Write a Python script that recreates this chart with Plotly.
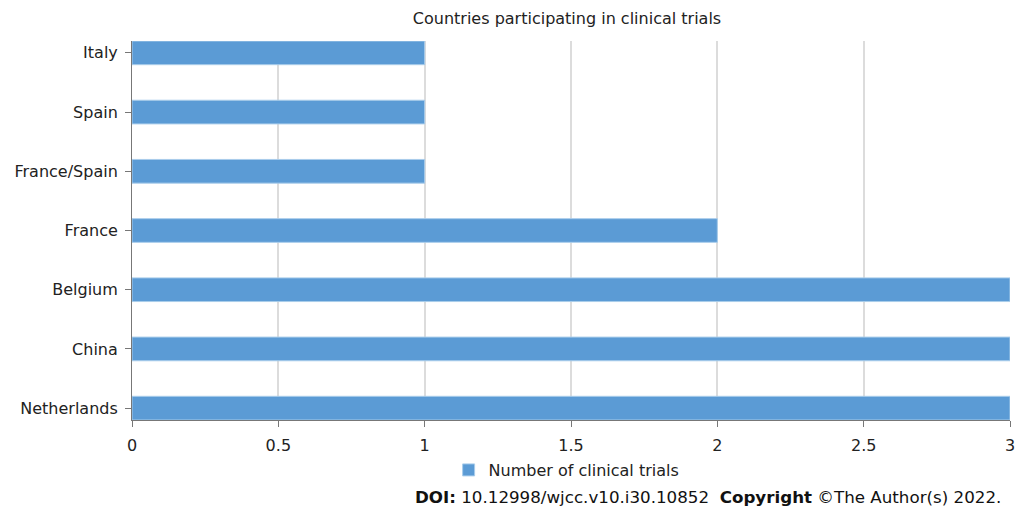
import plotly.graph_objects as go

countries = ["Netherlands", "China", "Belgium", "France", "France/Spain", "Spain", "Italy"]
trials = [3, 3, 3, 2, 1, 1, 1]
x_ticks = [0, 0.5, 1, 1.5, 2, 2.5, 3]
x_tick_labels = ["0", "0.5", "1", "1.5", "2", "2.5", "3"]

FONT = "DejaVu Sans, Verdana, sans-serif"
W, H = 1015, 510

fig = go.Figure()
fig.add_trace(go.Bar(
    y=countries, x=trials, orientation="h",
    name="Number of clinical trials",
    width=0.4,
    marker=dict(color="#5B9BD5", line=dict(color="#A9CDEB", width=1)),
))

fig.update_layout(
    width=W, height=H,
    margin=dict(l=132, r=5, t=41, b=90, autoexpand=False),
    plot_bgcolor="white", paper_bgcolor="white",
    font=dict(family=FONT, size=16, color="#222222"),
    title=dict(text="Countries participating in clinical trials", x=567 / W, xanchor="center",
               y=1 - 18 / H, yanchor="middle", font=dict(size=16, family=FONT, color="#222222")),
    showlegend=True,
    legend=dict(orientation="h", x=0.495, xanchor="center", y=1 - 470 / H, yanchor="middle",
                yref="container", font=dict(size=16, family=FONT), itemwidth=30),
    bargap=0.6,
)
fig.update_xaxes(
    range=[0, 3], tickvals=x_ticks, ticktext=x_tick_labels,
    showgrid=True, gridcolor="#DCDCDC", gridwidth=2,
    showline=True, linecolor="#777777", linewidth=1,
    ticks="outside", ticklen=6, tickcolor="#777777",
    zeroline=False, automargin=False, ticklabeloverflow="allow",
    ticklabelstandoff=5,
)
fig.update_yaxes(
    type="category", categoryorder="array", categoryarray=countries,
    range=[-0.2, 6.2],
    showgrid=False,
    showline=True, linecolor="#777777", linewidth=1,
    ticks="outside", ticklen=6, tickcolor="#777777",
    ticklabelstandoff=4, automargin=False,
)
fig.add_annotation(
    text="<b>DOI:</b> 10.12998/wjcc.v10.i30.10852  <b>Copyright</b> ©The Author(s) 2022.",
    xref="paper", yref="paper", x=(1003 - 132) / 878, xanchor="right",
    y=-77 / 379, yanchor="middle", showarrow=False,
    font=dict(size=16.7, family=FONT, color="#111111"),
)

fig.write_html(
    "out.html",
    config={"displayModeBar": False},
    post_script="document.body.style.margin='0';document.body.style.overflow='hidden';",
)
